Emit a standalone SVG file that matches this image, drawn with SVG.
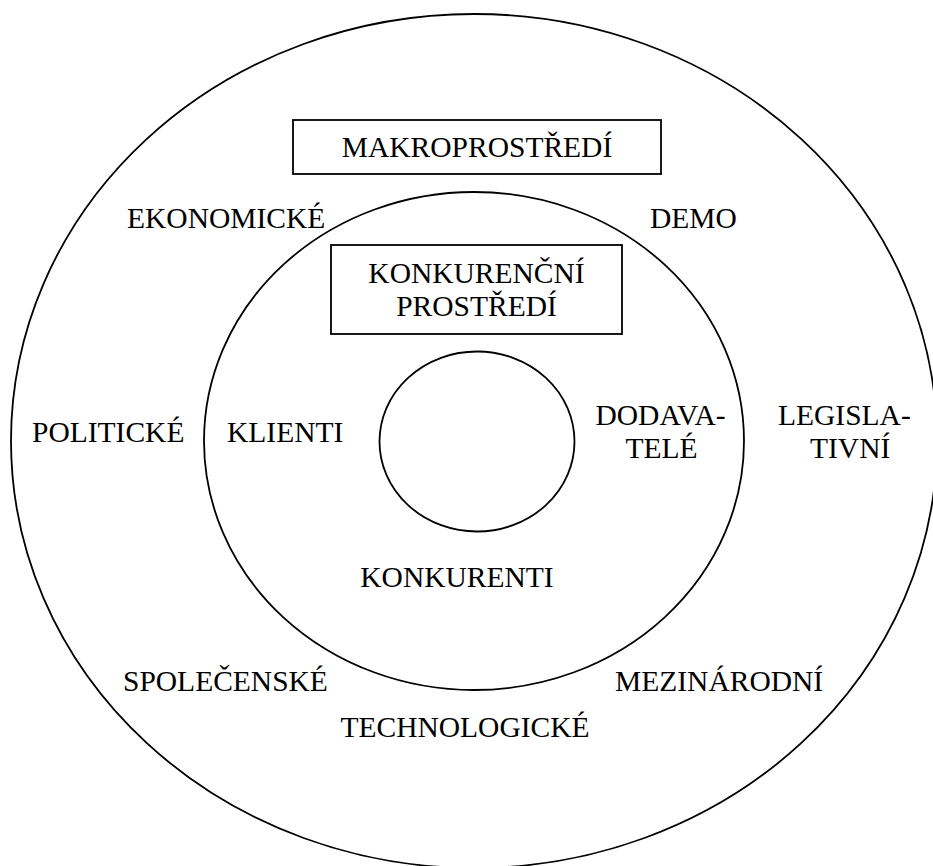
<svg xmlns="http://www.w3.org/2000/svg" width="933" height="866" viewBox="0 0 933 866">
<style>
.ring{fill:none;stroke:#000;stroke-width:1.8}
.box{fill:#fff;stroke:#000;stroke-width:1.8}
text{font-family:"Liberation Serif","Times New Roman",serif;font-size:29.5px;fill:#000}
.c{text-anchor:middle}
</style>
<rect x="0" y="0" width="933" height="866" fill="#fff"/>
<g id="outer-ring"><ellipse class="ring" cx="474" cy="441" rx="463" ry="427"/></g>
<g id="middle-ring"><ellipse class="ring" cx="474" cy="441" rx="270" ry="249"/></g>
<g id="inner-ring"><ellipse class="ring" cx="477" cy="441.5" rx="97.5" ry="90"/></g>
<g id="makroprostredi">
<rect class="box" x="293" y="120" width="368" height="54"/>
<text class="c" x="477" y="157">MAKROPROSTŘEDÍ</text>
</g>
<g id="konkurencni-prostredi">
<rect class="box" x="331" y="245" width="291" height="89"/>
<text class="c" x="476.5" y="283">KONKURENČNÍ</text>
<text class="c" x="476.5" y="316">PROSTŘEDÍ</text>
</g>
<g id="ekonomicke"><text x="127" y="228">EKONOMICKÉ</text></g>
<g id="demo"><text x="650" y="228">DEMO</text></g>
<g id="politicke"><text x="32" y="442">POLITICKÉ</text></g>
<g id="klienti"><text x="227" y="442">KLIENTI</text></g>
<g id="dodavatele">
<text class="c" x="660.5" y="425">DODAVA-</text>
<text class="c" x="661.5" y="458">TELÉ</text>
</g>
<g id="legislativni">
<text x="778" y="425">LEGISLA-</text>
<text x="810" y="458">TIVNÍ</text>
</g>
<g id="konkurenti"><text class="c" x="457" y="587">KONKURENTI</text></g>
<g id="spolecenske"><text x="123" y="691">SPOLEČENSKÉ</text></g>
<g id="mezinarodni"><text x="615" y="691">MEZINÁRODNÍ</text></g>
<g id="technologicke"><text class="c" x="465" y="737">TECHNOLOGICKÉ</text></g>
<g id="connectors"/>
</svg>
